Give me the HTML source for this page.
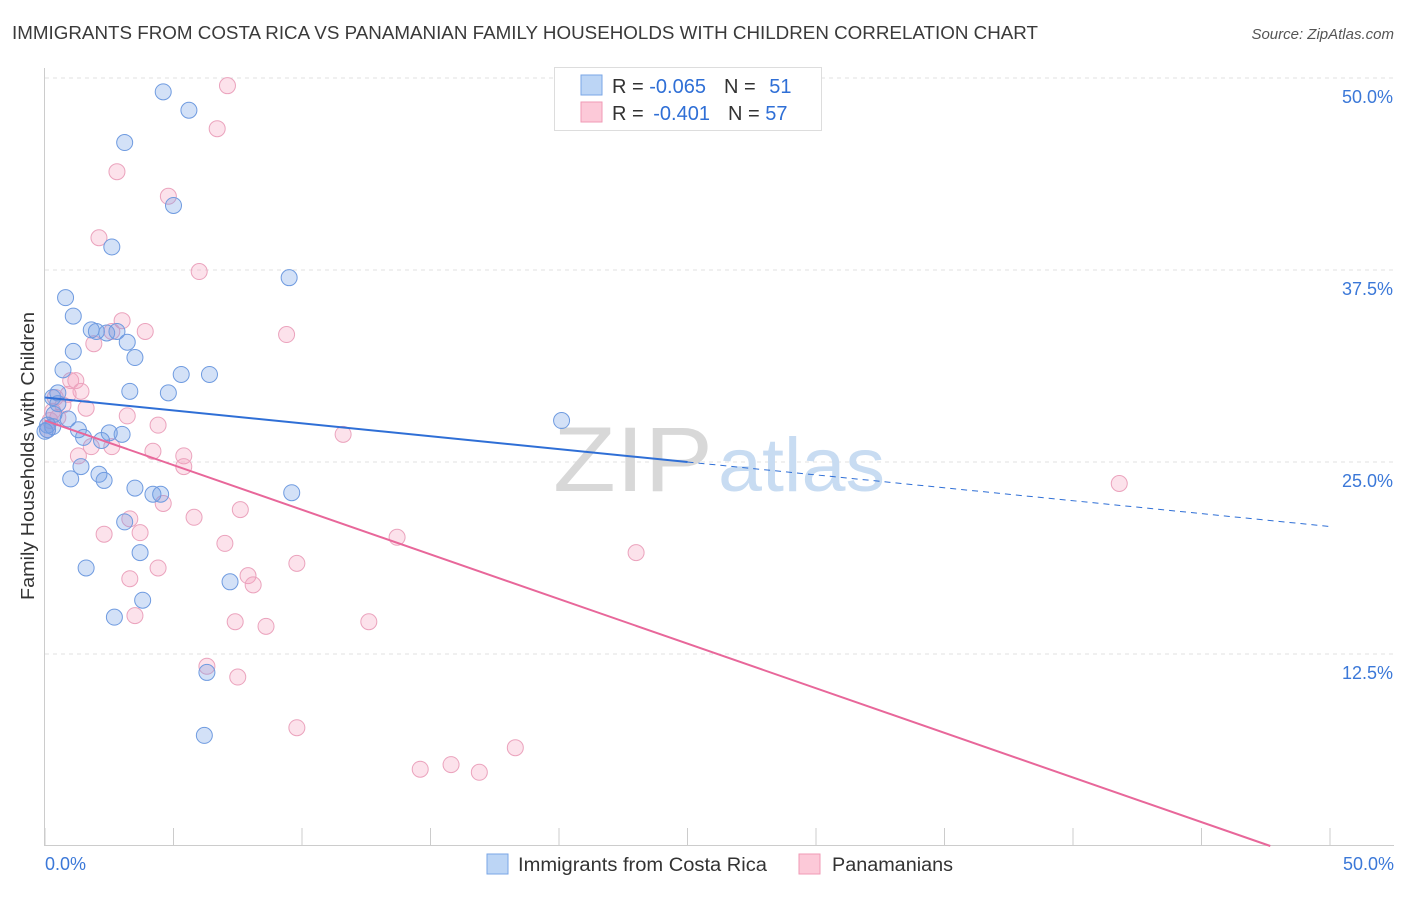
<!DOCTYPE html>
<html><head><meta charset="utf-8"><style>
body{margin:0;background:#fff;font-family:"Liberation Sans",sans-serif;}
svg text{font-family:"Liberation Sans",sans-serif;}
</style></head><body>
<svg id="chart" width="1406" height="892" viewBox="0 0 1406 892" xmlns="http://www.w3.org/2000/svg">
<text x="12" y="39" font-size="18" fill="#3a3a3a" textLength="1026" lengthAdjust="spacingAndGlyphs">IMMIGRANTS FROM COSTA RICA VS PANAMANIAN FAMILY HOUSEHOLDS WITH CHILDREN CORRELATION CHART</text>
<text x="1394" y="39" font-size="15" fill="#555" font-style="italic" text-anchor="end">Source: ZipAtlas.com</text>
<g id="grid"></g>
<text x="553" y="491" font-size="92" fill="#d8d8d8" font-family="Liberation Serif, serif" textLength="160" lengthAdjust="spacingAndGlyphs">ZIP</text>
<text x="718" y="491" font-size="76" fill="#c8dcf2" textLength="167" lengthAdjust="spacingAndGlyphs">atlas</text>
<g id="axes"></g>
<g id="points"></g>
<g id="lines"></g>
<text transform="translate(34,456) rotate(-90)" font-size="18" fill="#333" text-anchor="middle" textLength="288" lengthAdjust="spacingAndGlyphs">Family Households with Children</text>
<g>
<rect x="554.5" y="67.5" width="267" height="63" fill="#fff" stroke="#ddd"/>
<rect x="581" y="75" width="21" height="20" fill="#bcd5f5" stroke="#7aa6e6"/>
<rect x="581" y="102" width="21" height="20" fill="#fcc9d8" stroke="#f09ab6"/>
<text x="612" y="93" font-size="20" fill="#333">R = <tspan fill="#2f6fd6">-0.065</tspan><tspan dx="18">N = </tspan><tspan fill="#2f6fd6" dx="8">51</tspan></text>
<text x="612" y="120" font-size="20" fill="#333">R = <tspan fill="#2f6fd6" dx="4">-0.401</tspan><tspan dx="18">N = </tspan><tspan fill="#2f6fd6">57</tspan></text>
</g>
<g>
<rect x="487" y="854" width="21" height="20" fill="#bcd5f5" stroke="#7aa6e6"/>
<text x="518" y="871" font-size="19" fill="#333" textLength="249" lengthAdjust="spacingAndGlyphs">Immigrants from Costa Rica</text>
<rect x="799" y="854" width="21" height="20" fill="#fcc9d8" stroke="#f09ab6"/>
<text x="832" y="871" font-size="19" fill="#333" textLength="121" lengthAdjust="spacingAndGlyphs">Panamanians</text>
</g>
</svg>
<script>
const blueX=[4.6,5.6,3.1,5.0,2.6,9.5,0.8,1.1,1.8,2.0,2.8,2.4,3.2,1.1,3.5,0.7,5.3,6.4,3.3,4.8,0.5,0.3,0.5,0.35,0.9,0.1,0.3,0.1,1.3,2.5,3.0,1.5,2.2,1.4,2.1,1.0,2.3,3.5,4.2,4.5,9.6,3.1,3.7,1.6,7.2,3.8,2.7,6.3,6.2,20.1,0.0];
const blueY=[49.1,47.9,45.8,41.7,39.0,37.0,35.7,34.5,33.6,33.5,33.5,33.4,32.8,32.2,31.8,31.0,30.7,30.7,29.6,29.5,29.5,29.2,28.8,28.1,27.8,27.4,27.3,27.1,27.1,26.9,26.8,26.6,26.4,24.7,24.2,23.9,23.8,23.3,22.9,22.9,23.0,21.1,19.1,18.1,17.2,16.0,14.9,11.3,7.2,27.7,27.0];
const pinkX=[7.1,6.7,2.8,4.8,2.1,6.0,9.4,3.0,3.9,1.9,2.6,1.0,1.2,1.4,0.9,0.4,0.7,1.6,3.2,0.5,0.2,0.1,4.4,2.6,1.8,4.2,5.4,5.4,1.3,4.6,5.8,7.6,3.3,2.3,3.7,13.7,7.0,23.0,4.4,9.8,3.3,7.9,8.1,3.5,7.4,8.6,12.6,6.3,7.5,9.8,18.3,15.8,14.6,16.9,11.6,41.8,0.3];
const pinkY=[49.5,46.7,43.9,42.3,39.6,37.4,33.3,34.2,33.5,32.7,33.5,30.3,30.3,29.6,29.4,29.2,28.7,28.5,28.0,27.9,27.7,27.1,27.4,26.0,26.0,25.7,25.4,24.7,25.4,22.3,21.4,21.9,21.3,20.3,20.4,20.1,19.7,19.1,18.1,18.4,17.4,17.6,17.0,15.0,14.6,14.3,14.6,11.7,11.0,7.7,6.4,5.3,5.0,4.8,26.8,23.6,28.3];
const yTicks=[12.5,25.0,37.5,50.0];
const xTickVals=[0,5,10,15,20,25,30,35,40,45,50];
const blueTrend=[29.2,-0.168];
const pinkTrend=[27.7,-0.581];
const NS="http://www.w3.org/2000/svg";
const sx=v=>45+v*25.7, sy=v=>846-v*15.36;
function mk(tag,attrs,parent){const e=document.createElementNS(NS,tag);for(const k in attrs)e.setAttribute(k,attrs[k]);document.getElementById(parent).appendChild(e);return e;}
yTicks.forEach(t=>{
 const g=mk('line',{x1:45,x2:1394,y1:sy(t),y2:sy(t),stroke:'#e2e2e2','stroke-dasharray':'4,4'},'grid');
 
 
 const l=mk('text',{x:1393,y:sy(t)+25,'font-size':18,fill:'#3b78d8','text-anchor':'end'},'axes');
 l.textContent=t.toFixed(1)+'%';
 
 
});
const ax=mk('line',{x1:45,x2:1394,y1:845.5,y2:845.5,stroke:'#ccc'},'axes');


const ay=mk('line',{x1:44.5,x2:44.5,y1:68,y2:846,stroke:'#ccc'},'axes');


xTickVals.forEach(t=>{
 const k=mk('line',{x1:sx(t),x2:sx(t),y1:828,y2:846,stroke:'#ccc'},'axes');
 
 
});
[[0,'start',45],[50,'end',1394]].forEach(([v,a,x])=>{
 const l=mk('text',{x:x,y:870,'font-size':18,fill:'#3b78d8','text-anchor':a},'axes');
 l.textContent=v.toFixed(1)+'%';
 
 
});
function pts(X,Y,fill,stroke,name){X.forEach((x,i)=>{
 const c=mk('circle',{cx:sx(x),cy:sy(Y[i]),r:8,fill:fill,stroke:stroke,'stroke-width':1},'points');
 
 
});}
pts(pinkX,pinkY,'rgba(246,160,190,0.3)','#eba3bd','panamanians-point');
pts(blueX,blueY,'rgba(110,155,230,0.3)','#6f9be0','costa-rica-point');
const b1=mk('line',{x1:sx(0),y1:sy(blueTrend[0]),x2:sx(25),y2:sy(blueTrend[0]+blueTrend[1]*25),stroke:'#2f6fd6','stroke-width':2},'lines');


const b2=mk('line',{x1:sx(25),y1:sy(blueTrend[0]+blueTrend[1]*25),x2:sx(50),y2:sy(blueTrend[0]+blueTrend[1]*50),stroke:'#2f6fd6','stroke-width':1,'stroke-dasharray':'6,5'},'lines');


const xEnd=-pinkTrend[0]/pinkTrend[1];
const p1=mk('line',{x1:sx(0),y1:sy(pinkTrend[0]),x2:sx(xEnd),y2:sy(0),stroke:'#e8679a','stroke-width':2},'lines');


</script>
</body></html>
